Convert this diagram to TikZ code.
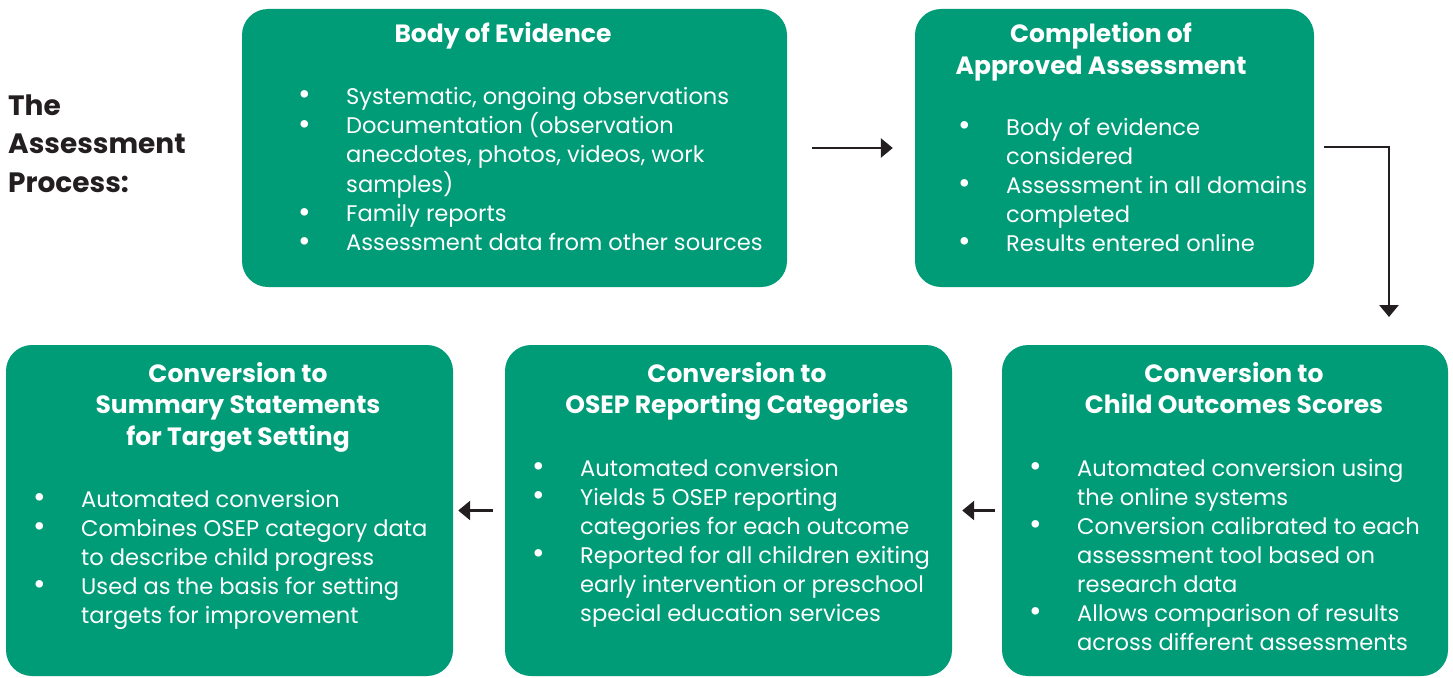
\documentclass[tikz,border=0pt]{standalone}
\usepackage{fontspec}
\setmainfont{Poppins}
\usetikzlibrary{arrows.meta}
\definecolor{boxgreen}{HTML}{009B77}
\definecolor{ink}{HTML}{231F20}
\newcommand\bodyfont{\fontsize{22.6}{29}\selectfont}
\newcommand\headfont{\fontsize{25}{31.5}\selectfont\bfseries}
\newcommand\bli{\makebox[48pt][l]{\raisebox{-0.8pt}{\scalebox{1.35}{\textbullet}}}}
\newcommand\nbl{\hspace*{48pt}}
\begin{document}
\begin{tikzpicture}[x=1pt,y=-1pt,
  card/.style={fill=boxgreen, draw=none, rounded corners=26pt, inner sep=0pt},
  head/.style={text=white, anchor=base, align=center, inner sep=0pt, font=\headfont},
  items/.style={text=white, anchor=base west, align=left, inner sep=0pt, font=\bodyfont},
  flow/.style={draw=ink, line width=2.8pt, -{Triangle[length=12pt,width=19pt]}}
]
\useasboundingbox (0,0) rectangle (1453,677);
% boxes
\path[card] (242,9) rectangle (787,287);
\node[inner sep=0pt, minimum width=545pt, minimum height=278pt] (b1) at (514.5,148) {};
\path[card] (915,9) rectangle (1314,287);
\node[inner sep=0pt, minimum width=399pt, minimum height=278pt] (b2) at (1114.5,148) {};
\path[card] (1002,345) rectangle (1448,676);
\node[inner sep=0pt, minimum width=446pt, minimum height=331pt] (b3) at (1225,510.5) {};
\path[card] (505,345) rectangle (952,676);
\node[inner sep=0pt, minimum width=447pt, minimum height=331pt] (b4) at (728.5,510.5) {};
\path[card] (6,345) rectangle (453,676);
\node[inner sep=0pt, minimum width=447pt, minimum height=331pt] (b5) at (229.5,510.5) {};

% title
\node[text=ink, anchor=base west, align=left, inner sep=0pt,
      font=\fontsize{28}{38.5}\selectfont\bfseries] (title) at (8,115)
  {\begin{tabular}[t]{@{}l@{}}The\\Assessment\\Process:\end{tabular}};

% headings
\node[head] (h1) at (503,43) {Body of Evidence};
\node[head] (h2) at (1101,43) {\begin{tabular}[t]{@{}c@{}}Completion of\\Approved Assessment\end{tabular}};
\node[head] (h3) at (1234,382) {\begin{tabular}[t]{@{}c@{}}Conversion to\\Child Outcomes Scores\end{tabular}};
\node[head] (h4) at (737,382) {\begin{tabular}[t]{@{}c@{}}Conversion to\\OSEP Reporting Categories\end{tabular}};
\node[head] (h5) at (238,382) {\begin{tabular}[t]{@{}c@{}}Conversion to\\Summary Statements\\for Target Setting\end{tabular}};

% lists
\node[items] (l1) at (298,104) {\begin{tabular}[t]{@{}l@{}}
\bli Systematic, ongoing observations\\
\bli Documentation (observation\\
\nbl anecdotes, photos, videos, work\\
\nbl samples)\\
\bli Family reports\\
\bli Assessment data from other sources\end{tabular}};
\node[items] (l2) at (958,135) {\begin{tabular}[t]{@{}l@{}}
\bli Body of evidence\\
\nbl considered\\
\bli Assessment in all domains\\
\nbl completed\\
\bli Results entered online\end{tabular}};
\node[items] (l3) at (1029,476) {\begin{tabular}[t]{@{}l@{}}
\bli Automated conversion using\\
\nbl the online systems\\
\bli Conversion calibrated to each\\
\nbl assessment tool based on\\
\nbl research data\\
\bli Allows comparison of results\\
\nbl across different assessments\end{tabular}};
\node[items] (l4) at (532,476) {\begin{tabular}[t]{@{}l@{}}
\bli Automated conversion\\
\bli Yields 5 OSEP reporting\\
\nbl categories for each outcome\\
\bli Reported for all children exiting\\
\nbl early intervention or preschool\\
\nbl special education services\end{tabular}};
\node[items] (l5) at (33,507) {\begin{tabular}[t]{@{}l@{}}
\bli Automated conversion\\
\bli Combines OSEP category data\\
\nbl to describe child progress\\
\bli Used as the basis for setting\\
\nbl targets for improvement\end{tabular}};

% connectors
\coordinate (start) at (1324,147);
\coordinate (turn) at (1389,147);
\coordinate (drop) at (1389,317);
\draw[flow, shorten <=25pt, shorten >=22pt] (b1.east) -- (b2.west);
\draw[flow] (start) -- (turn) -- (drop);
\draw[flow, shorten <=7pt, shorten >=10pt] (b3.west) -- (b4.east);
\draw[flow, shorten <=12pt, shorten >=5pt] (b4.west) -- (b5.east);
\end{tikzpicture}
\end{document}
